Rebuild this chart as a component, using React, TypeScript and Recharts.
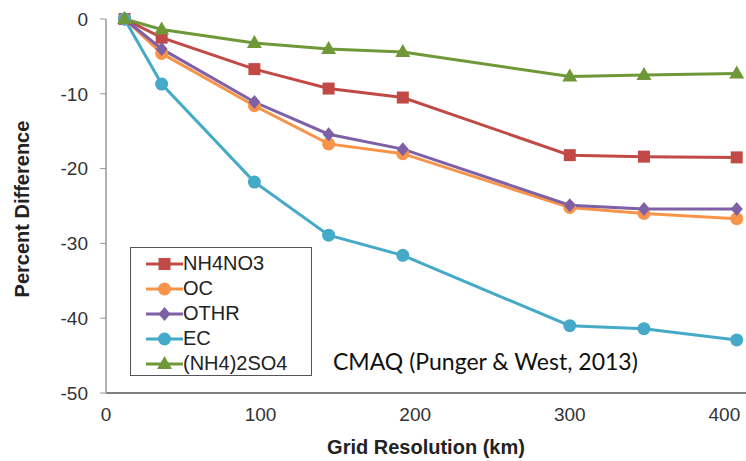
import { LineChart, Line, XAxis, YAxis, Legend } from 'recharts';

const GRID_KM = [12, 36, 96, 144, 192, 300, 348, 408];
const NH4NO3 = [0, -2.5, -6.7, -9.3, -10.5, -18.2, -18.4, -18.5];
const OC = [0, -4.6, -11.6, -16.7, -18.0, -25.2, -26.0, -26.7];
const OTHR = [0, -4.0, -11.1, -15.4, -17.4, -24.9, -25.4, -25.4];
const EC = [0, -8.7, -21.8, -28.9, -31.6, -41.0, -41.4, -42.9];
const NH42SO4 = [0, -1.4, -3.2, -4.0, -4.4, -7.7, -7.5, -7.3];

const X_TICKS = [0, 100, 200, 300, 400];
const Y_TICKS = [0, -10, -20, -30, -40, -50];

const SERIES = [
  { key: 'NH4NO3', name: 'NH4NO3', color: '#c24a46', shape: 'square' },
  { key: 'OC', name: 'OC', color: '#f7944a', shape: 'circle' },
  { key: 'OTHR', name: 'OTHR', color: '#7e60a6', shape: 'diamond' },
  { key: 'EC', name: 'EC', color: '#45aac8', shape: 'circle' },
  { key: 'NH42SO4', name: '(NH4)2SO4', color: '#6f9838', shape: 'triangle' },
];

const rows = GRID_KM.map((km, i) => ({
  km,
  NH4NO3: NH4NO3[i],
  OC: OC[i],
  OTHR: OTHR[i],
  EC: EC[i],
  NH42SO4: NH42SO4[i],
}));

const FONT = '"Liberation Sans", Arial, Helvetica, sans-serif';

function Marker({ shape, cx, cy, color }: { shape: string; cx: number; cy: number; color: string }) {
  if (shape === 'square') return <rect x={cx - 6} y={cy - 6} width={12} height={12} fill={color} />;
  if (shape === 'diamond')
    return <path d={`M${cx},${cy - 7}L${cx + 6},${cy}L${cx},${cy + 7}L${cx - 6},${cy}Z`} fill={color} />;
  if (shape === 'triangle')
    return <path d={`M${cx},${cy - 8}L${cx + 7.5},${cy + 5}L${cx - 7.5},${cy + 5}Z`} fill={color} />;
  return <circle cx={cx} cy={cy} r={6.5} fill={color} />;
}

// boxed legend with line + marker icons, like the original
function LegendBox() {
  return (
    <div
      style={{
        border: '1.5px solid #555',
        background: '#fff',
        width: 182,
        height: 129,
        boxSizing: 'border-box',
        padding: '3px 0 0 15px',
        fontFamily: FONT,
        fontSize: 20,
        color: '#222',
      }}
    >
      {SERIES.map((s) => (
        <div key={s.key} style={{ display: 'flex', alignItems: 'center', height: 25 }}>
          <svg width={37} height={20} style={{ display: 'block' }}>
            <line x1={0} y1={10} x2={37} y2={10} stroke={s.color} strokeWidth={3} />
            <Marker shape={s.shape} cx={18.5} cy={10} color={s.color} />
          </svg>
          <span>{s.name}</span>
        </div>
      ))}
    </div>
  );
}

export default function App() {
  return (
    <div style={{ position: 'absolute', left: 0, top: 0, width: 746, height: 461, background: '#fff' }}>
      <LineChart width={746} height={461} data={rows} margin={{ top: 19, right: 0, bottom: 0, left: 0 }}>
        <XAxis
          dataKey="km"
          type="number"
          domain={[0, 414]}
          ticks={X_TICKS}
          allowDataOverflow
          height={68}
          tickLine={false}
          tickSize={0}
          tickMargin={15}
          axisLine={{ stroke: '#555', strokeWidth: 1.5 }}
          tick={{ fontSize: 19, fill: '#333', fontFamily: FONT }}
          label={{
            value: 'Grid Resolution (km)',
            position: 'insideBottom',
            offset: 7,
            style: { fontSize: 20, fontWeight: 'bold', fill: '#222', fontFamily: FONT },
          }}
        />
        <XAxis
          xAxisId="top"
          dataKey="km"
          type="number"
          orientation="top"
          domain={[0, 414]}
          ticks={X_TICKS.slice(1)}
          height={0}
          tickSize={-6}
          tickFormatter={() => ''}
          axisLine={{ stroke: '#999', strokeWidth: 1.5 }}
          tickLine={{ stroke: '#999' }}
        />
        <YAxis
          type="number"
          domain={[-50, 0]}
          ticks={Y_TICKS}
          width={106}
          tickSize={6}
          tickMargin={12}
          axisLine={{ stroke: '#999', strokeWidth: 1.5 }}
          tickLine={{ stroke: '#999' }}
          tick={{ fontSize: 19, fill: '#333', fontFamily: FONT }}
          label={{
            value: 'Percent Difference',
            angle: -90,
            position: 'insideLeft',
            offset: 22,
            dy: 3,
            style: { textAnchor: 'middle', fontSize: 20, fontWeight: 'bold', fill: '#222', fontFamily: FONT },
          }}
        />
        <Legend
          layout="vertical"
          align="center"
          verticalAlign="middle"
          content={() => <LegendBox />}
          wrapperStyle={{ left: 130, top: 247, width: 182 }}
        />
        {SERIES.map((s) => (
          <Line
            key={s.key}
            dataKey={s.key}
            name={s.name}
            type="linear"
            stroke={s.color}
            strokeWidth={3}
            isAnimationActive={false}
            dot={(p: any) => <Marker key={`${s.key}-${p.index}`} shape={s.shape} cx={p.cx} cy={p.cy} color={s.color} />}
            activeDot={false}
          />
        ))}
      </LineChart>
      <div
        style={{
          position: 'absolute',
          left: 333,
          top: 347,
          fontFamily: 'Lato, "Open Sans", sans-serif',
          fontSize: 23,
          color: '#111',
          whiteSpace: 'nowrap',
        }}
      >
        CMAQ (Punger &amp; West, 2013)
      </div>
    </div>
  );
}
